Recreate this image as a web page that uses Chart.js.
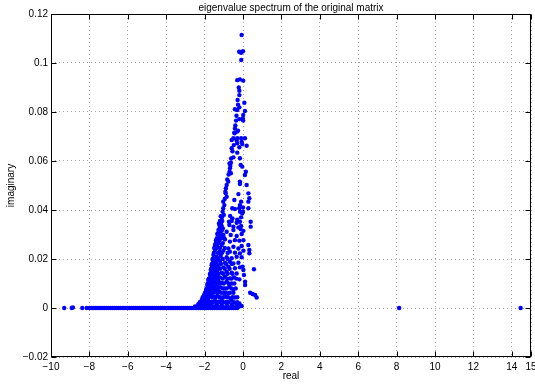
<!DOCTYPE html>
<html>
<head>
<meta charset="utf-8">
<script src="https://cdn.jsdelivr.net/npm/chart.js@4/dist/chart.umd.min.js"></script>
<style>
  html, body { margin: 0; padding: 0; background: #fff; }
</style>
</head>
<body>
<canvas id="spectrum" width="535" height="385"></canvas>
<script>
// Eigenvalues as [real, imaginary] pairs

// isolated eigenvalues far out on the real axis
const outliers = [
  [-9.31, 0], [-8.92, 0], [-8.86, 0.0002], [-8.37, 0], [-8.14, 0],
  [8.13, 0], [14.46, 0]
];

// real parts of the long run of (almost) real eigenvalues
const realAxisRe = [
  -8.0, -7.9, -7.8, -7.7, -7.6, -7.5, -7.4, -7.3, -7.2, -7.1,
  -7.0, -6.9, -6.8, -6.7, -6.6, -6.5, -6.4, -6.3, -6.2, -6.1,
  -6.0, -5.9, -5.8, -5.7, -5.6, -5.5, -5.4, -5.3, -5.2, -5.1,
  -5.0, -4.9, -4.8, -4.7, -4.6, -4.5, -4.4, -4.3, -4.2, -4.1,
  -4.0, -3.9, -3.8, -3.7, -3.6, -3.5, -3.4, -3.3, -3.2, -3.1,
  -3.0, -2.9, -2.8, -2.7, -2.6, -2.5, -2.4, -2.3, -2.2, -2.1,
  -2.0, -1.9, -1.8, -1.7, -1.6, -1.5, -1.4, -1.3, -1.2, -1.1,
  -1.0, -0.9, -0.8, -0.7, -0.6, -0.5, -0.4, -0.3
];

// upper part of the complex cone
const coneUpper = [
  [-0.07, 0.1114], [-0.20, 0.1046], [-0.10, 0.1042], [0.00, 0.1048], [-0.09, 0.1012],
  [-0.30, 0.0930], [-0.16, 0.0933], [0.01, 0.0928], [-0.19, 0.0887], [-0.19, 0.0869],
  [-0.28, 0.0849], [0.07, 0.0838], [-0.19, 0.0819], [-0.42, 0.0811], [-0.30, 0.0808],
  [0.10, 0.0804], [0.01, 0.0788], [-0.01, 0.0774], [-0.19, 0.0771], [-0.36, 0.0765],
  [0.01, 0.0765], [-0.42, 0.0733], [-0.26, 0.0724], [-0.44, 0.0713], [-0.45, 0.0716],
  [-0.30, 0.0720], [-0.50, 0.0693], [-0.30, 0.0693], [-0.10, 0.0693], [0.10, 0.0693],
  [-0.59, 0.0686], [-0.33, 0.0683], [-0.07, 0.0679], [-0.30, 0.0672], [-0.04, 0.0669],
  [0.19, 0.0662], [-0.59, 0.0652], [-0.19, 0.0656], [-0.30, 0.0634], [-0.50, 0.0615],
  [-0.16, 0.0611], [-0.63, 0.0593], [-0.70, 0.0590], [-0.12, 0.0584], [-0.04, 0.0577],
  [-0.68, 0.0570], [-0.70, 0.0556], [-0.63, 0.0550], [0.15, 0.0556], [0.10, 0.0543],
  [-0.77, 0.0516], [-0.85, 0.0502], [-0.89, 0.0489], [-0.90, 0.0468], [-0.85, 0.0454],
  [-0.16, 0.0516], [-0.16, 0.0506], [0.19, 0.0502], [-0.24, 0.0465], [0.28, 0.0468],
  [0.33, 0.0448], [0.28, 0.0434], [0.28, 0.0407], [-0.45, 0.0441], [-1.03, 0.0434],
  [-0.97, 0.0420], [-1.03, 0.0407], [-1.06, 0.0393], [-0.10, 0.0434], [-0.16, 0.0420],
  [0.00, 0.0410], [-0.20, 0.0407], [-0.56, 0.0407], [-0.42, 0.0404], [-0.15, 0.0393],
  [0.00, 0.0393], [-0.04, 0.0386], [-1.16, 0.0375], [-0.67, 0.0376], [-0.55, 0.0366],
  [-0.30, 0.0360], [-0.10, 0.0370], [-1.10, 0.0370], [-1.00, 0.0380], [-0.95, 0.0445],
  [-0.92, 0.0475], [-0.82, 0.0525], [-0.75, 0.0545], [-0.66, 0.0580], [-0.62, 0.0610],
  [-0.55, 0.0640], [-0.48, 0.0665], [-0.40, 0.0745], [-0.34, 0.0785], [-0.26, 0.0830],
  [-0.22, 0.0900]
];

// lower, denser part of the cone
const coneLower = [
  [-1.20, 0.0355], [-1.08, 0.0355], [-0.73, 0.0352], [-0.59, 0.0355], [-0.33, 0.0348], [-0.16, 0.0352], [0.40, 0.0352],
  [-1.23, 0.0339], [-1.11, 0.0335], [-0.71, 0.0339], [-0.50, 0.0332], [-0.24, 0.0329], [-0.10, 0.0335], [0.40, 0.0332],
  [-1.28, 0.0318], [-1.11, 0.0315], [-0.85, 0.0311], [-0.50, 0.0318], [-0.12, 0.0321], [0.02, 0.0315],
  [-1.34, 0.0302], [-1.20, 0.0291], [-1.02, 0.0298], [-0.64, 0.0298], [-0.33, 0.0294], [-0.07, 0.0302],
  [-1.41, 0.0277], [-1.23, 0.0275], [-0.94, 0.0280], [-0.68, 0.0271], [-0.42, 0.0277], [-0.19, 0.0275], [0.02, 0.0277],
  [-1.46, 0.0257], [-1.34, 0.0250], [-1.11, 0.0257], [-0.76, 0.0243], [-0.50, 0.0250], [-0.24, 0.0243], [-0.07, 0.0253], [0.28, 0.0257],
  [-1.46, 0.0237], [-1.23, 0.0230], [-1.02, 0.0234], [-0.68, 0.0230], [-0.42, 0.0226], [-0.16, 0.0223], [0.02, 0.0234], [0.33, 0.0237], [0.33, 0.0223],
  [-1.54, 0.0216], [-1.37, 0.0209], [-1.16, 0.0212], [-0.85, 0.0207], [-0.59, 0.0203], [-0.33, 0.0209], [-0.07, 0.0207],
  [-1.58, 0.0196], [-1.41, 0.0189], [-1.20, 0.0193], [-0.94, 0.0185], [-0.68, 0.0189], [-0.50, 0.0182], [-0.24, 0.0185], [-0.02, 0.0169],
  [-1.63, 0.0175], [-1.46, 0.0169], [-1.28, 0.0171], [-1.02, 0.0166], [-0.76, 0.0169], [-0.42, 0.0162], [-0.16, 0.0166], [0.02, 0.0155], [0.57, 0.0158],
  [-1.68, 0.0155], [-1.51, 0.0148], [-1.34, 0.0152], [-1.11, 0.0144], [-0.85, 0.0148], [-0.59, 0.0144], [-0.33, 0.0141], [0.05, 0.0135],
  [-1.72, 0.0135], [-1.54, 0.0128], [-1.37, 0.0130], [-1.20, 0.0125], [-0.94, 0.0128], [-0.68, 0.0121], [-0.47, 0.0125], [-0.19, 0.0117],
  [-1.81, 0.0114], [-1.63, 0.0111], [-1.46, 0.0107], [-1.28, 0.0111], [-1.11, 0.0103], [-0.85, 0.0107], [-0.59, 0.0100], [0.11, 0.0107], [0.11, 0.0094],
  [-1.86, 0.0094], [-1.68, 0.0090], [-1.51, 0.0087], [-1.34, 0.0094], [-1.16, 0.0084], [-0.94, 0.0080], [-0.71, 0.0087], [-0.50, 0.0076],
  [-1.93, 0.0073], [-1.75, 0.0071], [-1.58, 0.0067], [-1.41, 0.0073], [-1.23, 0.0067], [-1.02, 0.0062], [-0.76, 0.0060],
  [0.37, 0.0062], [0.50, 0.0057], [0.63, 0.0053], [0.71, 0.0043],
  [-2.03, 0.0053], [-1.86, 0.0049], [-1.68, 0.0053], [-1.51, 0.0046], [-1.34, 0.0049], [-1.11, 0.0043], [-0.88, 0.0046], [-0.64, 0.0039], [-0.42, 0.0043],
  [-2.15, 0.0033], [-1.98, 0.0030], [-1.81, 0.0033], [-1.63, 0.0026], [-1.46, 0.0030], [-1.28, 0.0026], [-1.11, 0.0033], [-0.85, 0.0026], [-0.59, 0.0030], [-0.42, 0.0022], [-0.19, 0.0019],
  [-2.33, 0.0016], [-2.15, 0.0012], [-1.98, 0.0016], [-1.81, 0.0012], [-1.63, 0.0012], [-1.37, 0.0012], [-1.11, 0.0012], [-0.85, 0.0016], [-0.59, 0.0012], [-0.33, 0.0012], [-0.07, 0.0008]
];

// extra eigenvalues packed along the left flank of the cone
const coneFlank = [
  [-1.25, 0.0345], [-1.15, 0.0345], [-1.22, 0.0325], [-1.05, 0.0325],
  [-1.30, 0.0305], [-1.18, 0.0305], [-1.36, 0.0285], [-1.12, 0.0285], [-0.98, 0.0285],
  [-1.42, 0.0265], [-1.28, 0.0265], [-1.05, 0.0265],
  [-1.50, 0.0245], [-1.38, 0.0245], [-1.20, 0.0245], [-0.95, 0.0245],
  [-1.52, 0.0225], [-1.30, 0.0225], [-1.10, 0.0225], [-0.80, 0.0225],
  [-1.58, 0.0200], [-1.48, 0.0200], [-1.30, 0.0200], [-1.05, 0.0200], [-0.80, 0.0200],
  [-1.62, 0.0180], [-1.52, 0.0180], [-1.36, 0.0180], [-1.15, 0.0180], [-0.88, 0.0180], [-0.58, 0.0180],
  [-1.66, 0.0160], [-1.56, 0.0160], [-1.42, 0.0160], [-1.20, 0.0160], [-0.95, 0.0160], [-0.70, 0.0160],
  [-1.72, 0.0140], [-1.60, 0.0140], [-1.45, 0.0140], [-1.28, 0.0140], [-1.02, 0.0140], [-0.80, 0.0140], [-0.55, 0.0140],
  [-1.78, 0.0120], [-1.65, 0.0120], [-1.52, 0.0120], [-1.35, 0.0120], [-1.05, 0.0120], [-0.82, 0.0120], [-0.60, 0.0120], [-0.35, 0.0120],
  [-1.84, 0.0100], [-1.72, 0.0100], [-1.58, 0.0100], [-1.40, 0.0100], [-1.20, 0.0100], [-1.00, 0.0100], [-0.75, 0.0100], [-0.45, 0.0100],
  [-1.90, 0.0080], [-1.80, 0.0080], [-1.65, 0.0080], [-1.48, 0.0080], [-1.30, 0.0080], [-1.05, 0.0080], [-0.85, 0.0080], [-0.60, 0.0080], [-0.38, 0.0080],
  [-1.98, 0.0062], [-1.86, 0.0062], [-1.70, 0.0062], [-1.55, 0.0062], [-1.35, 0.0062], [-1.15, 0.0062], [-0.92, 0.0062], [-0.68, 0.0062], [-0.50, 0.0062],
  [-2.10, 0.0044], [-1.95, 0.0044], [-1.78, 0.0044], [-1.60, 0.0044], [-1.42, 0.0044], [-1.22, 0.0044], [-1.00, 0.0044], [-0.78, 0.0044], [-0.55, 0.0044], [-0.30, 0.0044],
  [-2.25, 0.0024], [-2.08, 0.0024], [-1.90, 0.0024], [-1.72, 0.0024], [-1.55, 0.0024], [-1.38, 0.0024], [-1.20, 0.0024], [-1.00, 0.0024], [-0.75, 0.0024], [-0.50, 0.0024], [-0.30, 0.0024],
  [-2.50, 0.0006], [-2.40, 0.0006], [-2.25, 0.0006], [-2.05, 0.0006], [-1.88, 0.0006], [-1.70, 0.0006], [-1.50, 0.0006], [-1.30, 0.0006],
  [-1.05, 0.0006], [-0.80, 0.0006], [-0.55, 0.0006], [-0.35, 0.0006], [-0.20, 0.0006]
];

const xTicks = [-10, -8, -6, -4, -2, 0, 2, 4, 6, 8, 10, 12, 14, 15];
const yTicks = [-0.02, 0, 0.02, 0.04, 0.06, 0.08, 0.1, 0.12];

const toPoint = p => ({ x: p[0], y: p[1] });
const points = []
  .concat(realAxisRe.map(re => ({ x: re, y: 0 })))
  .concat(outliers.map(toPoint))
  .concat(coneLower.map(toPoint))
  .concat(coneFlank.map(toPoint))
  .concat(coneUpper.map(toPoint));

// minus sign like the axis labels use
function fmt(v) {
  return v < 0 ? '\u2212' + String(-v) : String(v);
}

// box round the plot with inward tick marks on all four sides
const boxTicks = {
  id: 'boxTicks',
  afterDraw(chart) {
    const { ctx, chartArea: a, scales: { x, y } } = chart;
    const L = Math.round(a.left) + 0.5, R = Math.round(a.right) - 0.5;
    const T = Math.round(a.top) + 0.5, B = Math.round(a.bottom) - 0.5;
    ctx.save();
    ctx.strokeStyle = '#000';
    ctx.lineWidth = 1;
    ctx.beginPath();
    xTicks.forEach(v => {
      const px = Math.round(x.getPixelForValue(v)) + 0.5;
      ctx.moveTo(px, B); ctx.lineTo(px, B - 5);
      ctx.moveTo(px, T); ctx.lineTo(px, T + 5);
    });
    yTicks.forEach(v => {
      const py = Math.round(y.getPixelForValue(v)) + 0.5;
      ctx.moveTo(L, py); ctx.lineTo(L + 5, py);
      ctx.moveTo(R, py); ctx.lineTo(R - 5, py);
    });
    ctx.stroke();
    ctx.strokeRect(L, T, R - L, B - T);
    ctx.restore();
  }
};

Chart.defaults.font.family = '"Liberation Sans", Arial, Helvetica, sans-serif';
Chart.defaults.font.size = 10;
Chart.defaults.color = '#000';

new Chart(document.getElementById('spectrum').getContext('2d'), {
  type: 'scatter',
  data: {
    datasets: [{
      data: points,
      backgroundColor: '#0000ff',
      borderWidth: 0,
      pointRadius: 2.2,
      pointHoverRadius: 2.2
    }]
  },
  options: {
    responsive: false,
    animation: false,
    devicePixelRatio: 1,
    events: [],
    layout: { padding: { right: 4 } },
    plugins: {
      legend: { display: false },
      tooltip: { enabled: false },
      title: {
        display: true,
        fullSize: false,
        text: 'eigenvalue spectrum of the original matrix',
        font: { size: 10, weight: 'normal' },
        padding: { top: 2, bottom: 0 }
      }
    },
    scales: {
      x: {
        type: 'linear',
        min: -10,
        max: 15,
        afterBuildTicks: s => { s.ticks = xTicks.map(v => ({ value: v })); },
        afterFit: s => {
          s.height = 28;
          // let the "15" label hang over the edge instead of squeezing the plot
          s.paddingLeft = 0;
          s.paddingRight = 0;
        },
        ticks: { autoSkip: false, maxRotation: 0, padding: 4, callback: fmt },
        grid: { color: '#a8a8a8', drawTicks: false },
        border: { display: false, dash: [1, 3] },
        title: { display: true, text: 'real', padding: { top: 0, bottom: 3 } }
      },
      y: {
        type: 'linear',
        min: -0.02,
        max: 0.12,
        afterBuildTicks: s => { s.ticks = yTicks.map(v => ({ value: v })); },
        afterFit: s => {
          s.width = 51;
          s.paddingTop = 0;
          s.paddingBottom = 0;
        },
        ticks: { autoSkip: false, padding: 3, callback: fmt },
        grid: { color: '#a8a8a8', drawTicks: false },
        border: { display: false, dash: [1, 3] },
        title: { display: true, text: 'imaginary', padding: { top: 5, bottom: 0 } }
      }
    }
  },
  plugins: [boxTicks]
});
</script>
</body>
</html>
